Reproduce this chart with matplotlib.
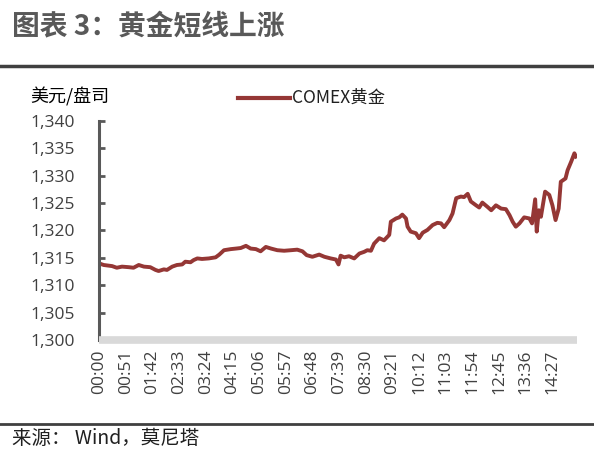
import matplotlib
matplotlib.use("Agg")
import matplotlib.pyplot as plt
from matplotlib.lines import Line2D

plt.rcParams['font.family'] = ['Noto Sans CJK SC', 'DejaVu Sans']

# minutes since 00:00
minutes = [0, 9, 25, 34, 44, 57, 66, 76, 86, 98, 108, 114, 124, 130, 140, 149, 159,
           165, 175, 181, 188, 197, 210, 223, 230, 239, 252, 262, 271, 281, 290, 300,
           309, 319, 329, 341, 354, 367, 379, 389, 397, 408, 421, 431, 443, 453, 458,
           462, 469, 478, 488, 498, 507, 513, 520, 526, 536, 545, 555, 558, 568, 574,
           580, 587, 590, 596, 606, 612, 619, 628, 638, 647, 654, 660, 670, 676, 683,
           692, 698, 705, 711, 721, 727, 733, 743, 750, 759, 769, 778, 785, 791, 797,
           804, 813, 823, 828, 834, 837, 841, 845, 853, 861, 867, 873, 879, 883, 892,
           896, 903, 909, 912]
prices = [1314.0, 1313.7, 1313.5, 1313.2, 1313.4, 1313.3, 1313.2, 1313.7, 1313.4,
          1313.3, 1312.8, 1312.6, 1312.9, 1312.8, 1313.4, 1313.7, 1313.8, 1314.3,
          1314.2, 1314.6, 1314.9, 1314.8, 1314.9, 1315.1, 1315.6, 1316.4, 1316.6,
          1316.7, 1316.8, 1317.2, 1316.7, 1316.6, 1316.2, 1317.0, 1316.7, 1316.4,
          1316.3, 1316.4, 1316.5, 1316.2, 1315.5, 1315.2, 1315.6, 1315.2, 1314.9,
          1314.7, 1313.8, 1315.4, 1315.1, 1315.3, 1314.9, 1315.8, 1316.1, 1316.4,
          1316.3, 1317.6, 1318.6, 1318.2, 1319.2, 1321.6, 1322.2, 1322.4, 1322.9,
          1322.2, 1320.7, 1319.8, 1319.5, 1318.6, 1319.6, 1320.1, 1321.0, 1321.4,
          1321.3, 1320.6, 1321.9, 1323.1, 1325.9, 1326.2, 1326.1, 1326.7, 1325.3,
          1324.6, 1324.2, 1325.1, 1324.3, 1323.7, 1324.6, 1324.0, 1323.9, 1322.8,
          1321.6, 1320.7, 1321.3, 1322.4, 1322.2, 1321.3, 1325.7, 1319.8, 1323.7,
          1322.5, 1327.1, 1326.5, 1324.6, 1321.9, 1324.0, 1328.9, 1329.5, 1331.0,
          1332.6, 1334.1, 1333.5]

tick_labels = ["00:00", "00:51", "01:42", "02:33", "03:24", "04:15", "05:06",
               "05:57", "06:48", "07:39", "08:30", "09:21", "10:12", "11:03",
               "11:54", "12:45", "13:36", "14:27"]
y_ticks = [1300, 1305, 1310, 1315, 1320, 1325, 1330, 1335, 1340]

def to_min(s):
    h, m = s.split(":")
    return int(h) * 60 + int(m)

fig = plt.figure(figsize=(5.94, 4.51), dpi=100)
ax = fig.add_axes([99/594, 1 - 340/451, (577 - 99)/594, (340 - 121)/451])

line_color = '#953735'
ax.plot(minutes, prices, color=line_color, lw=2.8, solid_joinstyle='round')

ax.set_xlim(0, 914)
ax.set_ylim(1300, 1340)
ax.set_yticks(y_ticks)
ax.set_yticklabels([f"{v:,}" for v in y_ticks], fontsize=12.5, color='#404040',
                   family=['Open Sans', 'DejaVu Sans'])
ax.set_xticks([to_min(t) for t in tick_labels])
ax.set_xticklabels(tick_labels, rotation=90, fontsize=12.5, color='#404040',
                   family=['Open Sans', 'DejaVu Sans'])

for s in ['top', 'right']:
    ax.spines[s].set_visible(False)
ax.spines['left'].set_color('#595959')
ax.spines['left'].set_linewidth(2.2)
ax.spines['bottom'].set_color('#d9d9d9')
ax.spines['bottom'].set_linewidth(5.5)
ax.spines['bottom'].set_capstyle('butt')
ax.tick_params(axis='y', direction='in', length=4, width=2, color='#595959', pad=17)
ax.tick_params(axis='x', length=0, pad=7)

# title
fig.text(12/594, 1 - 26/451, "图表 3：黄金短线上涨", fontsize=20, fontweight='bold',
         color='#595959', va='center', ha='left')
fig.add_artist(Line2D([0, 1], [1 - 66/451, 1 - 66/451], color='#404040', lw=2.5))

# unit label
fig.text(30/594, 1 - 97/451, "美元/盘司", fontsize=13, color='black', va='center', ha='left')

# legend
fig.add_artist(Line2D([238/594, 290/594], [1 - 98/451, 1 - 98/451], color=line_color, lw=3))
fig.text(292/594, 1 - 98/451, "COMEX黄金", fontsize=12.5, color='#202020', va='center', ha='left')

# bottom rule and source
fig.add_artist(Line2D([0, 1], [1 - 424/451, 1 - 424/451], color='#404040', lw=2))
fig.text(12/594, 1 - 439/451, "来源： Wind，莫尼塔", fontsize=14, color='#202020',
         va='center', ha='left')

fig.savefig("out.png", dpi=100)
